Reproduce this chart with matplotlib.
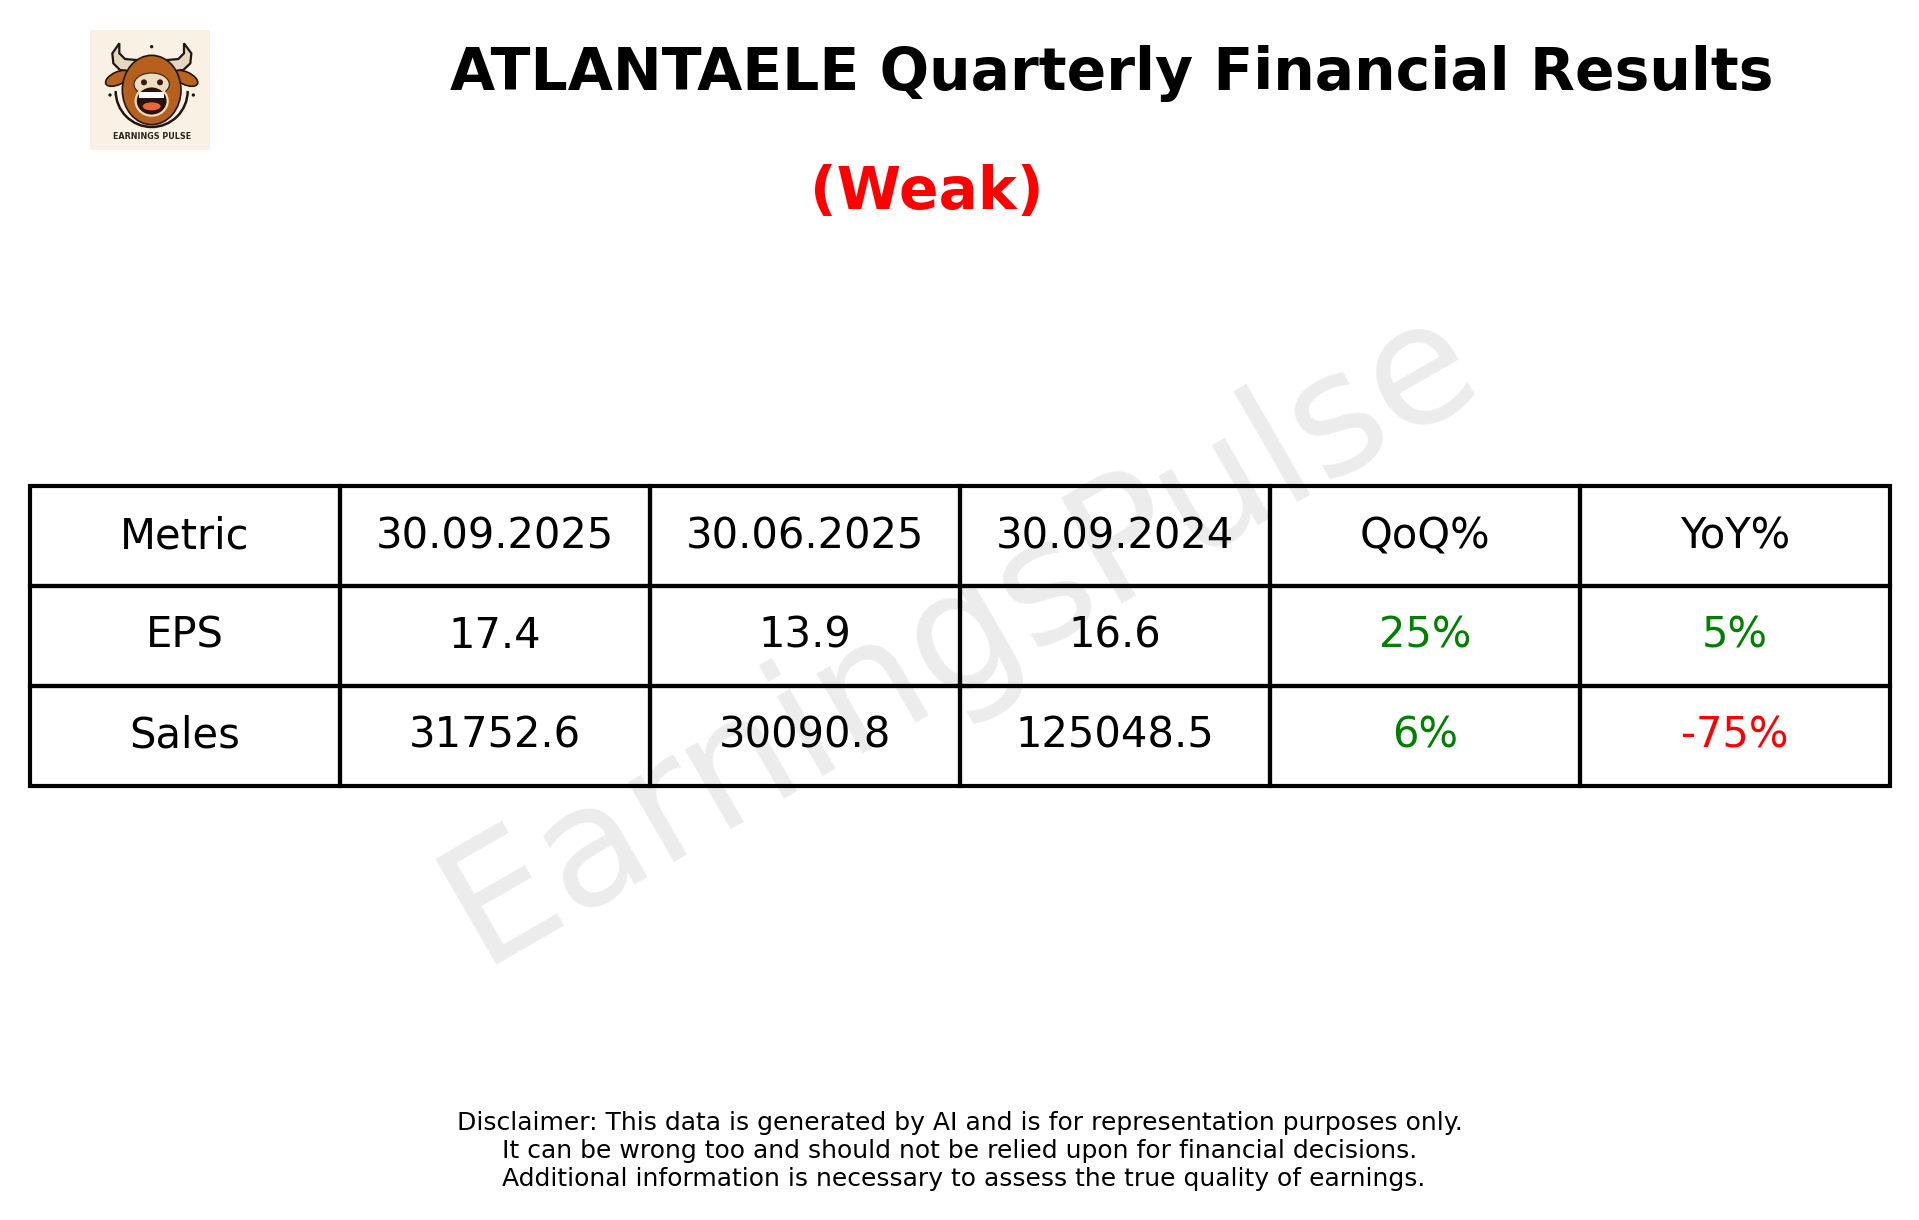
import matplotlib
matplotlib.use("Agg")
import matplotlib.pyplot as plt
from matplotlib.patches import Ellipse, Polygon, Rectangle, Arc

ticker = "ATLANTAELE"
verdict = "Weak"
columns = ["Metric", "30.09.2025", "30.06.2025", "30.09.2024", "QoQ%", "YoY%"]
eps_row = ["EPS", "17.4", "13.9", "16.6", "25%", "5%"]
sales_row = ["Sales", "31752.6", "30090.8", "125048.5", "6%", "-75%"]
disclaimer = [
    "Disclaimer: This data is generated by AI and is for representation purposes only.",
    "It can be wrong too and should not be relied upon for financial decisions.",
    " Additional information is necessary to assess the true quality of earnings.",
]

W, H = 1919, 1220
fig = plt.figure(figsize=(W / 100, H / 100), dpi=100)
ax = fig.add_axes([0, 0, 1, 1])
ax.set_xlim(0, W)
ax.set_ylim(H, 0)
ax.axis("off")


def draw_logo(ax):
    # crude redraw of the bull logo, coords are in the 3x crop of it
    def z(x, y):
        return 70 + x / 3, 15 + y / 3

    def ell(x, y, w, h, **kw):
        ax.add_patch(Ellipse(z(x, y), w / 3, h / 3, **kw))

    ax.add_patch(Rectangle(z(60, 45), 120, 120, fc="#f8f1e4", ec="none", zorder=2))
    for pts in (
        [(148, 85), (127, 115), (130, 145), (150, 165), (190, 170), (198, 135), (165, 132), (148, 115)],
        [(342, 85), (364, 115), (361, 145), (340, 165), (300, 170), (292, 135), (325, 132), (342, 115)],
    ):
        ax.add_patch(Polygon([z(*p) for p in pts], fc="#e6d8c0", ec="#221510", lw=1.6, zorder=3))
    for x, ang in ((143, -25), (347, 25)):
        ell(x, 190, 78, 38, angle=ang, fc="#b8641f", ec="#221510", lw=1.2, zorder=3)
    ax.add_patch(Arc(z(245, 228), 72, 72, theta1=0, theta2=180, ec="#221510", lw=1.8, zorder=3))
    ell(245, 225, 176, 208, fc="#b5601c", ec="#221510", lw=1.2, zorder=4)
    ell(245, 208, 106, 68, fc="#ecdcc0", ec="#3a2212", lw=0.8, zorder=5)
    ell(222, 202, 18, 18, fc="#3a1a10", ec="none", zorder=6)
    ell(270, 202, 18, 18, fc="#3a1a10", ec="none", zorder=6)
    ell(245, 258, 96, 88, fc="#2a120c", ec="#ecdcc0", lw=1.6, zorder=6)
    ax.add_patch(Rectangle(z(208, 232), 74 / 3, 18 / 3, fc="white", ec="none", zorder=7))
    ell(245, 274, 54, 24, fc="#e8673a", ec="none", zorder=7)
    for x, y in ((245, 95), (120, 240), (370, 240)):
        ell(x, y, 10, 10, fc="#221510", ec="none", zorder=4)
    ax.text(*z(245, 365), "EARNINGS PULSE", fontsize=5.8, fontweight="bold", color="#2a2420",
            ha="center", va="center", zorder=5)


draw_logo(ax)

ax.text(960, 634, "EarningsPulse", fontsize=120, color="gray", alpha=0.15,
        rotation=30, ha="center", va="center", zorder=1)

ax.text(1112, 74, f"{ticker} Quarterly Financial Results", fontsize=42, fontweight="bold",
        ha="center", va="center")
ax.text(927, 193, f"({verdict})", fontsize=42, fontweight="bold", color="red",
        ha="center", va="center")

# table sits in its own axes so the rows run top-down
tax = fig.add_axes([30 / W, (H - 786) / H, 1860 / W, 300 / H])
tax.axis("off")
rows = [columns, eps_row, sales_row]
table = tax.table(cellText=rows, cellLoc="center", bbox=[0, 0, 1, 1])
table.auto_set_font_size(False)
table.set_fontsize(30)
for (r, c), cell in table.get_celld().items():
    cell.set_linewidth(3)
    cell.set_edgecolor("black")
    cell.set_facecolor("none")
    if r > 0 and c >= 4:
        cell.get_text().set_color("red" if rows[r][c].startswith("-") else "green")

ax.text(960, 1151, "\n".join(disclaimer), fontsize=18, ha="center", va="center", linespacing=1.2)

fig.savefig("out.png", dpi=100)
